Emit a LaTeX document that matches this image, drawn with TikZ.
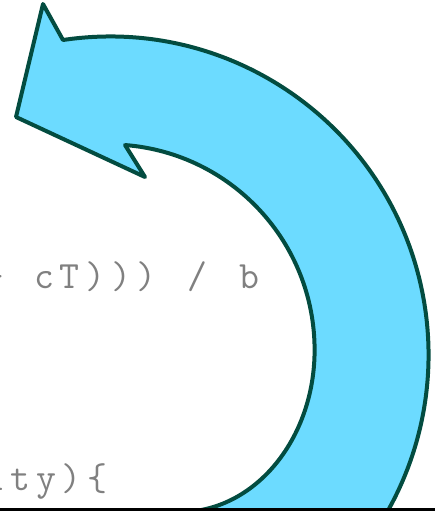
\documentclass[tikz,border=0pt]{standalone}
\usepackage{fontspec}
\definecolor{arrowfill}{HTML}{6CDBFF}
\definecolor{arrowline}{HTML}{034C40}
\definecolor{codegray}{HTML}{808080}
\definecolor{baseline}{HTML}{2A8A83}
% monospace cells with a fixed pitch of 25.6px (19.2pt)
\def\pitched#1{\pitchedloop#1\relax}
\def\pitchedloop#1{\ifx\relax#1\else\makebox[19.2pt][c]{#1}\expandafter\pitchedloop\fi}
\tikzset{
  codetext/.style={anchor=base west, inner sep=0pt, text=codegray, font=\fontsize{29}{32}\selectfont\ttfamily},
  bigarrow/.style={fill=arrowfill, draw=arrowline, line width=3pt, line join=round}
}
\begin{document}
\begin{tikzpicture}[x=0.75pt,y=0.75pt]
\useasboundingbox (0,0) rectangle (435,-511);
\clip (0,0) rectangle (435,-511);
\node[codetext] (line1) at (-20,-288) {\pitched{+~cT)))~/~b}};
\node[codetext] (line2) at (-18,-490) {\pitched{ity)\{}};
\draw[bigarrow]
  (125,-145) -- (145,-177) -- (16,-117) -- (43,-4) -- (63,-40)
  arc[start angle=98.5, end angle=-40, radius=318.5]
  -- (180,-560) -- (180,-512)
  arc[start angle=-90, end angle=0, x radius=134.6, y radius=162]
  arc[start angle=0, end angle=85.5, radius=205.6]
  -- cycle;
\draw[baseline, line width=1.6pt] (0,-509.5) -- (435,-509.5);
\end{tikzpicture}
\end{document}
